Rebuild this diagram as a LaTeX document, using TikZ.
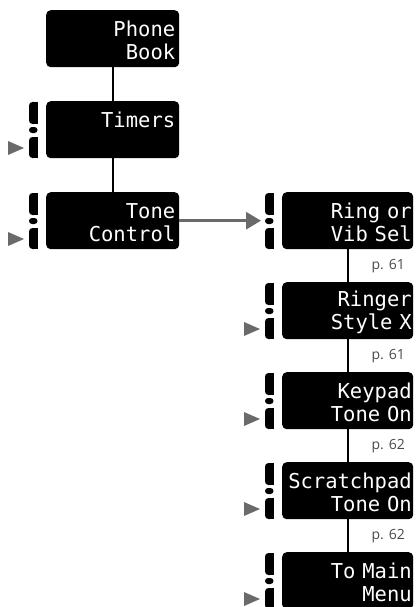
\documentclass[tikz,border=0pt]{standalone}
\usepackage{fontspec}
\newfontfamily\lcdfont{DejaVu Sans Mono}
\newfontfamily\pagefont{Open Sans}
\usetikzlibrary{arrows.meta}
\definecolor{arrowgray}{HTML}{6A6A6A}
\definecolor{pagegray}{HTML}{4A4A4A}
\tikzset{
  x=1pt, y=-1pt,
  menubox/.style={fill=black, rounded corners=4.5pt, minimum height=57pt,
    align=right, text=white, inner ysep=0pt,
    font=\lcdfont\fontsize{20.5}{23}\selectfont,
    execute at begin node={\rule{0pt}{19.5pt}}},
  leftbox/.style={menubox, minimum width=133pt, text width=125pt, inner xsep=4pt},
  rightbox/.style={menubox, minimum width=131pt, text width=128pt, inner xsep=1.5pt},
  conn/.style={draw=black, line width=2pt},
  flow/.style={draw=arrowgray, line width=3pt, -{Triangle[length=15pt,width=17pt]}},
  pagelbl/.style={anchor=base east, text=pagegray, inner sep=0pt,
    font=\pagefont\fontsize{14}{16}\selectfont},
  tri/.style={fill=arrowgray},
  btn/.style={fill=black}
}
\newcommand{\sidekeys}[1]{% #1 = box node name
  \path (#1.north west) coordinate (sk);
  \fill[btn, rounded corners=3.5pt] ([xshift=-17pt,yshift=-1pt]sk) rectangle ([xshift=-8.5pt,yshift=-23pt]sk);
  \fill[btn] ([xshift=-13pt,yshift=-1pt]sk) rectangle ([xshift=-8.5pt,yshift=-23pt]sk);
  \fill[btn, rounded corners=3pt] ([xshift=-17pt,yshift=-26pt]sk) rectangle ([xshift=-8.5pt,yshift=-32pt]sk);
  \fill[btn, rounded corners=3.5pt] ([xshift=-17pt,yshift=-36pt]sk) rectangle ([xshift=-8.5pt,yshift=-57pt]sk);
  \fill[btn] ([xshift=-13pt,yshift=-36pt]sk) rectangle ([xshift=-8.5pt,yshift=-57pt]sk);
}
\newcommand{\softtri}[1]{%
  \path (#1.north west) coordinate (st);
  \fill[tri] ([xshift=-22pt,yshift=-47pt]st) -- ([xshift=-38pt,yshift=-40pt]st) -- ([xshift=-38pt,yshift=-54pt]st) -- cycle;
}
\begin{document}
\begin{tikzpicture}
\useasboundingbox (0,0) rectangle (415,607);
% left column
\node[leftbox, anchor=north west] (pb) at (46,10) {Phone\\Book};
\node[leftbox, anchor=north west] (tm) at (46,101) {Timers\\~};
\node[leftbox, anchor=north west] (tc) at (46,192) {Tone\\Control};
% right column
\node[rightbox, anchor=north west] (rv) at (282,192) {Ring or\\Vib Sel};
\node[rightbox, anchor=north west] (rs) at (282,282) {Ringer\\Style X};
\node[rightbox, anchor=north west] (kt) at (282,372) {Keypad\\Tone On};
\node[rightbox, anchor=north west] (st2) at (282,462) {Scratchpad\\Tone On};
\node[rightbox, anchor=north west] (mm) at (282,552) {To Main\\Menu};
% page labels
\node[pagelbl] (p1) at (405,269) {p. 61};
\node[pagelbl] (p2) at (405,359) {p. 61};
\node[pagelbl] (p3) at (405,449) {p. 62};
\node[pagelbl] (p4) at (405,539) {p. 62};
% connectors
\draw[conn] (pb.south) -- (tm.north);
\draw[conn] (tm.south) -- (tc.north);
\draw[conn] (rv.south) -- (rs.north);
\draw[conn] (rs.south) -- (kt.north);
\draw[conn] (kt.south) -- (st2.north);
\draw[conn] (st2.south) -- (mm.north);
\coordinate (tip) at ([xshift=-21pt]rv.west);
\draw[flow] (tc.east) -- (tip);
% soft keys
\sidekeys{tm}\sidekeys{tc}
\sidekeys{rv}\sidekeys{rs}\sidekeys{kt}\sidekeys{st2}\sidekeys{mm}
\softtri{tm}\softtri{tc}
\softtri{rs}\softtri{kt}\softtri{st2}\softtri{mm}
\end{tikzpicture}
\end{document}
